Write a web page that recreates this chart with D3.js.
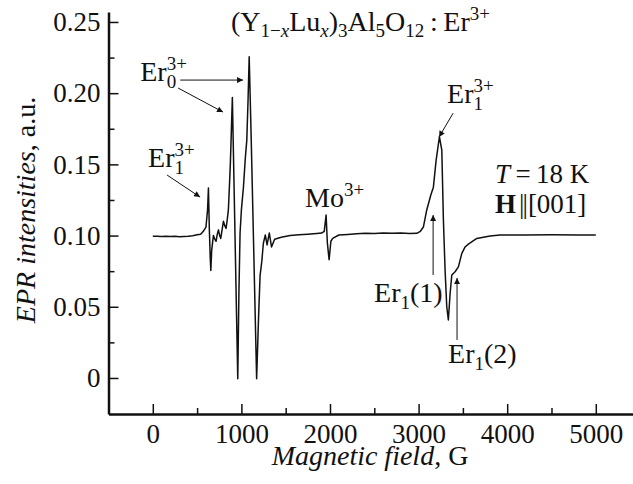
<!DOCTYPE html>
<html>
<head>
<meta charset="utf-8">
<script src="https://cdn.jsdelivr.net/npm/d3@7"></script>
<style>
  body { margin: 0; background: #fff; }
  svg text { font-family: "Liberation Serif", "Times New Roman", Times, serif; fill: #111; }
</style>
</head>
<body>
<div id="chart"></div>
<script>
// EPR spectrum of (Y1-xLux)3Al5O12:Er3+, T = 18 K, H || [001]

// magnetic field (G) and EPR intensity (a.u.)
const fieldG = [0, 50, 100, 150, 200, 250, 300, 350, 400, 450, 500, 540, 570, 600, 618, 628, 638, 648, 655, 665,
  684, 700, 714, 728, 741, 755, 767, 782, 797, 812, 827, 840, 853, 865, 875, 885, 898, 959, 972, 985,
  1000, 1023, 1045, 1061, 1075, 1088, 1110, 1172, 1195, 1211, 1230, 1248, 1270, 1290, 1315, 1340, 1375, 1450, 1550, 1650,
  1750, 1850, 1905, 1935, 1956, 1970, 1990, 2010, 2030, 2100, 2200, 2300, 2400, 2500, 2600, 2700, 2800, 2900, 2980, 3020,
  3054, 3092, 3138, 3167, 3198, 3235, 3262, 3280, 3299, 3318, 3336, 3356, 3375, 3412, 3449, 3488, 3525, 3562, 3657, 3807,
  3920, 4200, 4500, 4800, 5000];
const intensity = [0.0995, 0.0996, 0.0994, 0.0996, 0.0993, 0.0995, 0.0991, 0.0994, 0.0996, 0.0999, 0.1005, 0.1010, 0.1030, 0.1060, 0.1180, 0.1334, 0.1050, 0.0850, 0.0755, 0.0900,
  0.1000, 0.0975, 0.0960, 0.1010, 0.1040, 0.1000, 0.0980, 0.1040, 0.1100, 0.1070, 0.1050, 0.1110, 0.1180, 0.1350, 0.1500, 0.1700, 0.1970, -0.0005, 0.0600, 0.1020,
  0.1180, 0.1340, 0.1550, 0.1670, 0.1950, 0.2255, 0.1700, -0.0005, 0.0450, 0.0720, 0.0817, 0.0946, 0.1004, 0.0934, 0.1018, 0.0920, 0.0974, 0.0988, 0.1000, 0.1005,
  0.1010, 0.1015, 0.1018, 0.1030, 0.1144, 0.0950, 0.0830, 0.0960, 0.0980, 0.1004, 0.1008, 0.1012, 0.1016, 0.1014, 0.1018, 0.1016, 0.1018, 0.1014, 0.1016, 0.1030,
  0.1060, 0.1180, 0.1285, 0.1340, 0.1530, 0.1694, 0.1600, 0.1110, 0.0758, 0.0500, 0.0407, 0.0595, 0.0723, 0.0746, 0.0780, 0.0875, 0.0920, 0.0940, 0.0980, 0.0997,
  0.1004, 0.1004, 0.1005, 0.1004, 0.1004];

const xTicks = [0, 1000, 2000, 3000, 4000, 5000];
const xMinorTicks = [500, 1500, 2500, 3500, 4500];
const yTicks = [0, 0.05, 0.10, 0.15, 0.20, 0.25];
const yTickLabels = ["0", "0.05", "0.10", "0.15", "0.20", "0.25"];
const yMinorTicks = [0.025, 0.075, 0.125, 0.175, 0.225];

const width = 633, height = 484;
const fsTick = 27, fs = 28, fsSmall = 19;
const serif = '"Liberation Serif", "Times New Roman", Times, serif';

const svg = d3.select("#chart").append("svg")
  .attr("width", width).attr("height", height);

svg.append("defs").append("marker")
  .attr("id", "arrow")
  .attr("viewBox", "0 0 10 10")
  .attr("refX", 10).attr("refY", 5)
  .attr("markerWidth", 9).attr("markerHeight", 6)
  .attr("markerUnits", "userSpaceOnUse")
  .attr("orient", "auto")
  .append("path").attr("d", "M0,0 L10,5 L0,10 Z").attr("fill", "#111");

const x = d3.scaleLinear().domain([-500, 5420]).range([108.5, 633]);
const y = d3.scaleLinear().domain([-0.0253, 0.257]).range([414, 12]);

// axes: ticks point inward
svg.append("g").attr("transform", `translate(0,${y.range()[0]})`)
  .call(d3.axisBottom(x).tickValues(xTicks).tickSizeInner(-10).tickSizeOuter(0).tickPadding(10).tickFormat(d3.format("d")));
svg.append("g").attr("transform", `translate(0,${y.range()[0]})`)
  .call(d3.axisBottom(x).tickValues(xMinorTicks).tickSizeInner(-6).tickSizeOuter(0).tickFormat(""))
  .select(".domain").remove();

svg.append("g").attr("transform", `translate(${x.range()[0]},0)`)
  .call(d3.axisLeft(y).tickValues(yTicks).tickSizeInner(-10).tickSizeOuter(0).tickPadding(8)
    .tickFormat((d, i) => yTickLabels[i]));
svg.append("g").attr("transform", `translate(${x.range()[0]},0)`)
  .call(d3.axisLeft(y).tickValues(yMinorTicks).tickSizeInner(-6).tickSizeOuter(0).tickFormat(""))
  .select(".domain").remove();

svg.selectAll(".domain").attr("stroke", "#111").attr("stroke-width", 2.5);
svg.selectAll(".tick line").attr("stroke", "#111").attr("stroke-width", 1.5);
svg.selectAll(".tick text").attr("font-family", serif).style("font-size", fsTick + "px").attr("fill", "#111");

// spectrum
const pts = fieldG.map((f, i) => [f, intensity[i]]);
svg.append("path")
  .datum(pts)
  .attr("fill", "none")
  .attr("stroke", "#111")
  .attr("stroke-width", 1.5)
  .attr("stroke-linejoin", "round")
  .attr("d", d3.line().x(d => x(d[0])).y(d => y(d[1])));

// axis titles
const xt = svg.append("text").attr("x", 370).attr("y", 465).attr("text-anchor", "middle").style("font-size", fs + "px");
xt.append("tspan").style("font-style", "italic").text("Magnetic field");
xt.append("tspan").text(", G");

const yt = svg.append("text").attr("transform", "translate(35,210) rotate(-90)").attr("text-anchor", "middle").style("font-size", fs + "px");
yt.append("tspan").style("font-style", "italic").text("EPR intensities");
yt.append("tspan").text(", a.u.");

// title formula: [text, shift (0 normal, 1 subscript, -1 superscript), italic]
const titleParts = [["(Y", 0], ["1\u2212", 1], ["x", 1, true], ["Lu", 0], ["x", 1, true], [")", 0], ["3", 1],
  ["Al", 0], ["5", 1], ["O", 0], ["12", 1], ["\u2009:\u2009Er", 0], ["3+", -1]];
const shiftPx = { "0": 0, "1": 6, "-1": -11 };
const title = svg.append("text").attr("x", 231).attr("y", 31).style("font-size", fs + "px");
let cur = 0;
titleParts.forEach(([txt, s, it]) => {
  const ts = title.append("tspan").text(txt);
  if (shiftPx[s] !== cur) { ts.attr("dy", shiftPx[s] - cur); cur = shiftPx[s]; }
  if (s !== 0) ts.style("font-size", fsSmall + "px");
  if (it) ts.style("font-style", "italic");
});

// label with stacked subscript / superscript
function ionLabel(gx, gy, base, subTxt, supTxt, tail) {
  const px = x(gx), py = y(gy);
  const t = svg.append("text").attr("x", px).attr("y", py).style("font-size", fs + "px").text(base);
  const w = t.node().getComputedTextLength();
  let sw = 0;
  if (subTxt) {
    const s = svg.append("text").attr("x", px + w).attr("y", py + 7).style("font-size", fsSmall + "px").text(subTxt);
    sw = s.node().getComputedTextLength();
  }
  if (supTxt) {
    svg.append("text").attr("x", px + w).attr("y", py - 11).style("font-size", fsSmall + "px").text(supTxt);
  }
  if (tail) {
    svg.append("text").attr("x", px + w + sw).attr("y", py).style("font-size", fs + "px").text(tail);
  }
}
function arrow(g0, v0, g1, v1) {
  svg.append("line")
    .attr("x1", x(g0)).attr("y1", y(v0)).attr("x2", x(g1)).attr("y2", y(v1))
    .attr("stroke", "#111").attr("stroke-width", 1)
    .attr("marker-end", "url(#arrow)");
}

ionLabel(-142, 0.2085, "Er", "0", "3+");
arrow(310, 0.2092, 1019, 0.2092);
arrow(286, 0.2036, 793, 0.1867);

ionLabel(-53, 0.148, "Er", "1", "3+");
arrow(161, 0.1425, 534, 0.127);

ionLabel(1719, 0.120, "Mo", null, "3+");

ionLabel(3322, 0.193, "Er", "1", "3+");
arrow(3390, 0.186, 3231, 0.1692);

ionLabel(2498, 0.0534, "Er", "1", null, "(1)");
arrow(3164, 0.0723, 3164, 0.1144);

ionLabel(3333, 0.0105, "Er", "1", null, "(2)");
arrow(3434, 0.0267, 3434, 0.0702);

// conditions
const tT = svg.append("text").attr("x", x(3863)).attr("y", y(0.137)).style("font-size", "27px");
tT.append("tspan").style("font-style", "italic").text("T");
tT.append("tspan").text("\u2009=\u200918 K");
const tH = svg.append("text").attr("x", x(3863)).attr("y", y(0.1158)).style("font-size", "27px");
tH.append("tspan").style("font-weight", "bold").text("H");
tH.append("tspan").attr("dx", 3).style("letter-spacing", "-2px").text("||");
tH.append("tspan").attr("dx", 2).text("[001]");
</script>
</body>
</html>
